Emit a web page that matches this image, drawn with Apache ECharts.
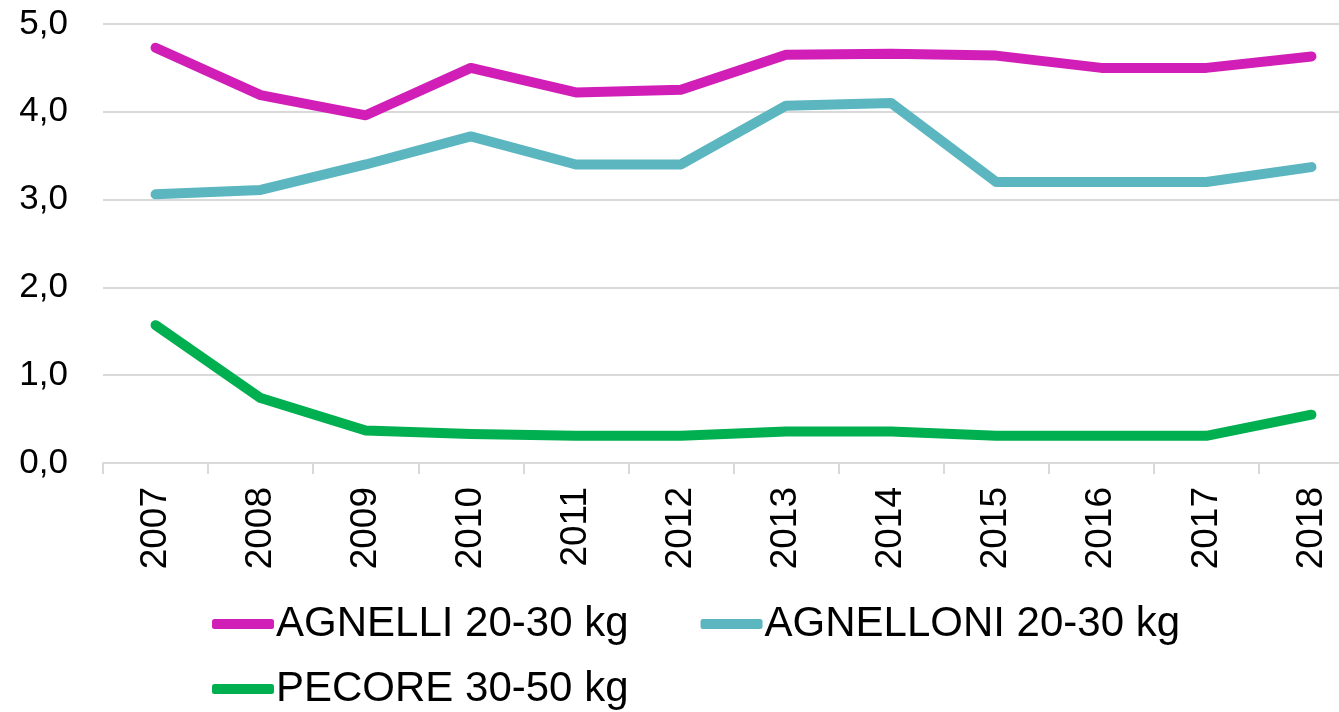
<!DOCTYPE html>
<html>
<head>
<meta charset="utf-8">
<script src="https://cdn.jsdelivr.net/npm/echarts@6/dist/echarts.min.js"></script>
<style>html,body{margin:0;padding:0;background:#fff;}#c{width:1339px;height:712px;}</style>
</head>
<body>
<div id="c"></div>
<script>
const years = ['2007','2008','2009','2010','2011','2012','2013','2014','2015','2016','2017','2018'];
const agnelli = [4.73, 4.19, 3.96, 4.50, 4.22, 4.25, 4.65, 4.66, 4.64, 4.50, 4.50, 4.63];
const agnelloni = [3.06, 3.11, 3.40, 3.72, 3.40, 3.40, 4.07, 4.10, 3.20, 3.20, 3.20, 3.37];
const pecore = [1.57, 0.74, 0.37, 0.33, 0.31, 0.31, 0.36, 0.36, 0.31, 0.31, 0.31, 0.55];
const seriesNames = ['AGNELLI 20-30 kg', 'AGNELLONI 20-30 kg', 'PECORE 30-50 kg'];
const colors = ['#D11EB6', '#5BB6C0', '#00AF50'];
const yTicks = { min: 0, max: 5, interval: 1 };

const FONT = '"Liberation Sans", Arial, sans-serif';
const chart = echarts.init(document.getElementById('c'), null, { renderer: 'canvas' });
function mk(name, data, color) {
  return {
    name, type: 'line', data, showSymbol: false, symbol: 'none',
    lineStyle: { width: 10, color, cap: 'round', join: 'round' },
    itemStyle: { color },
    animation: false
  };
}
const legendBase = {
  itemWidth: 62, itemHeight: 10, itemGap: 72,
  icon: 'roundRect',
  textStyle: { fontFamily: FONT, fontSize: 42, color: '#000', padding: [0, 0, 0, -3] }
};
chart.setOption({
  animation: false,
  color: colors,
  grid: { left: 103, width: 1261, top: 24, bottom: 249, containLabel: false, outerBoundsMode: 'none' },
  legend: [
    Object.assign({}, legendBase, { left: 207, top: 598, data: seriesNames.slice(0, 2) }),
    Object.assign({}, legendBase, { left: 207, top: 663, data: seriesNames.slice(2) })
  ],
  xAxis: {
    type: 'category', data: years, boundaryGap: true,
    axisLine: { lineStyle: { color: '#d9d9d9', width: 2 } },
    axisTick: { show: true, length: 11, lineStyle: { color: '#d9d9d9', width: 2 } },
    axisLabel: { rotate: 90, margin: 24, fontFamily: FONT, fontSize: 37, color: '#000' }
  },
  yAxis: {
    type: 'value', min: yTicks.min, max: yTicks.max, interval: yTicks.interval,
    axisLine: { show: false }, axisTick: { show: false },
    splitLine: { lineStyle: { color: '#d9d9d9', width: 2 } },
    axisLabel: { margin: 35, fontFamily: FONT, fontSize: 35, color: '#000',
      formatter: v => v.toFixed(1).replace('.', ',') }
  },
  series: [
    mk(seriesNames[0], agnelli, colors[0]),
    mk(seriesNames[1], agnelloni, colors[1]),
    mk(seriesNames[2], pecore, colors[2])
  ]
});
</script>
</body>
</html>
